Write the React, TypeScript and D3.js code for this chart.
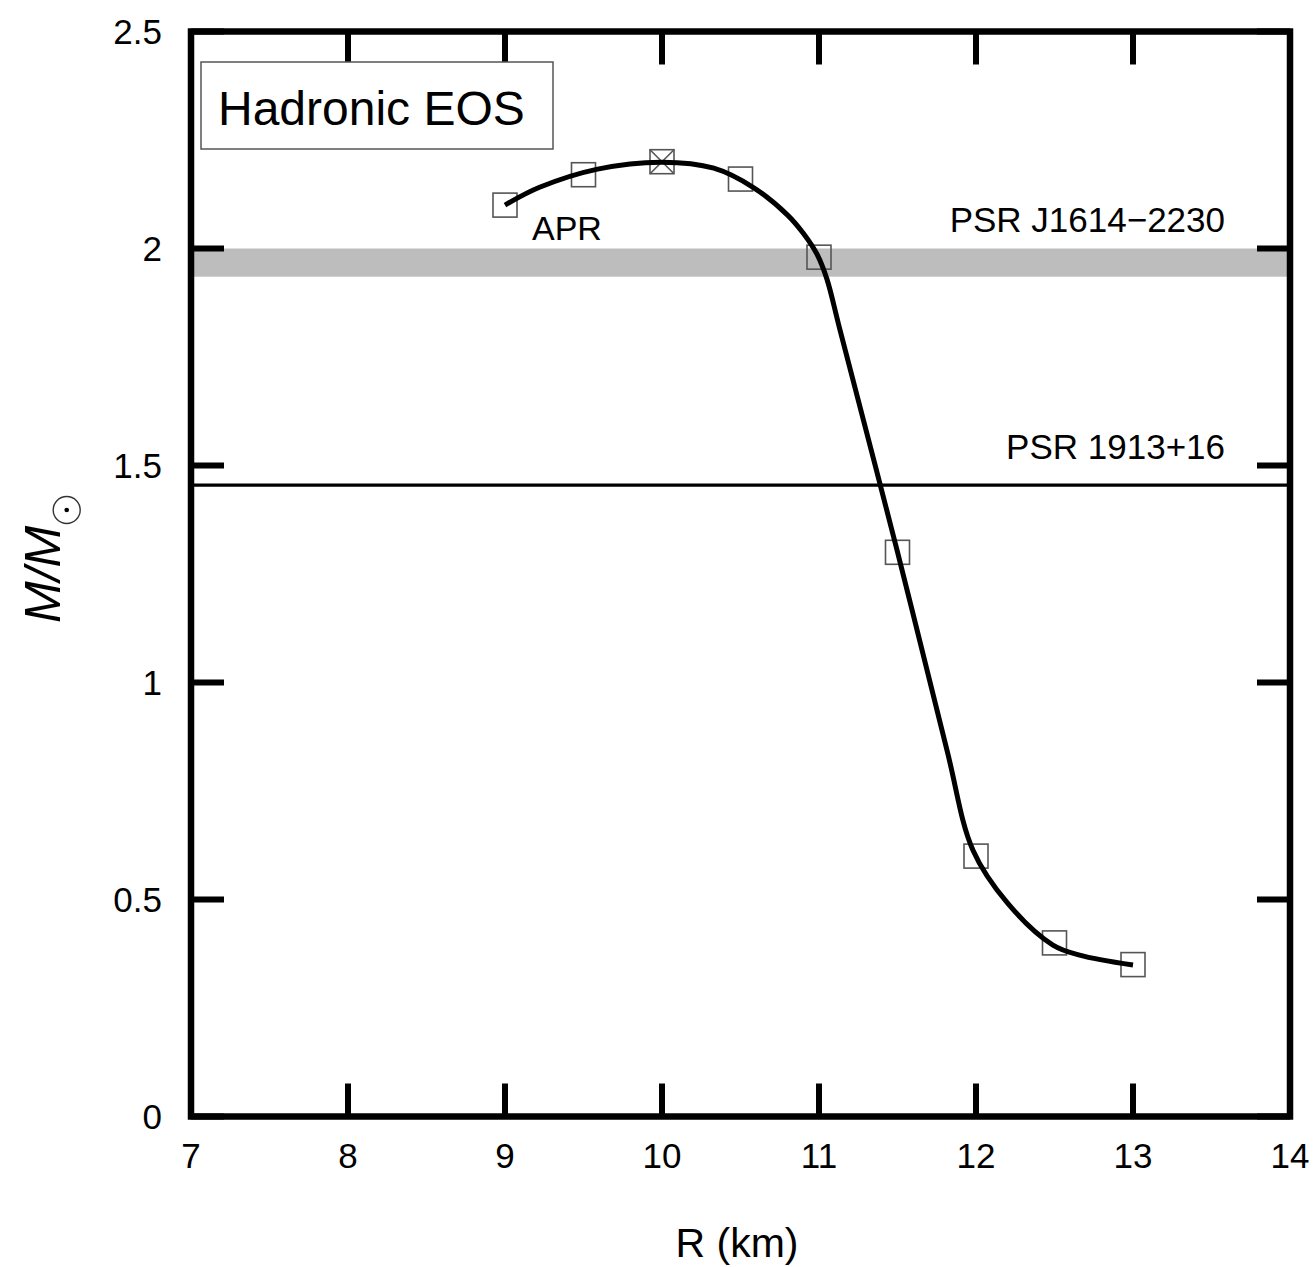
import React from "react";
import * as d3 from "d3";

const markerR = [9, 9.5, 10, 10.5, 11, 11.5, 12, 12.5, 13];
const markerM = [2.1, 2.17, 2.2, 2.16, 1.98, 1.3, 0.6, 0.4, 0.35];
const crossedIndex = 2;

const curveR = [9.0, 9.22, 9.59, 10.0, 10.33, 10.58, 10.8, 10.9, 10.99, 11.05, 11.134, 11.497, 11.815, 11.98, 12.2, 12.49, 12.66, 13.0];
const curveM = [2.1, 2.141, 2.183, 2.199, 2.185, 2.141, 2.077, 2.035, 1.985, 1.93, 1.812, 1.305, 0.844, 0.614, 0.492, 0.395, 0.372, 0.349];

const xTicks = [7, 8, 9, 10, 11, 12, 13, 14];
const yTicks = [0, 0.5, 1, 1.5, 2, 2.5];
const yTickLabels = ["0", "0.5", "1", "1.5", "2", "2.5"];

const bandLow = 1.935;
const bandHigh = 2.0;
const psr1913 = 1.455;

const W = 1315;
const H = 1267;
const FONT = "'Liberation Sans', Arial, sans-serif";

export default function App() {
  const x = d3.scaleLinear().domain([7, 14]).range([191, 1290]);
  const y = d3.scaleLinear().domain([0, 2.5]).range([1116.5, 31.5]);
  const [x0, x1] = x.range();
  const [y0, y1] = y.range();
  const tickLen = 33;

  const line = d3
    .line<number>()
    .x((_, i) => x(curveR[i]))
    .y((d) => y(d))
    .curve(d3.curveCatmullRom.alpha(0.5));

  const s = 12;

  return (
    <svg
      width={W}
      height={H}
      style={{ position: "absolute", left: 0, top: 0, display: "block", background: "#fff" }}
      fontFamily={FONT}
    >
      <rect x={0} y={0} width={W} height={H} fill="#fff" />
      {/* band */}
      <rect x={x0} y={y(bandHigh)} width={x1 - x0} height={y(bandLow) - y(bandHigh)} fill="#bdbdbd" />
      {/* PSR 1913+16 line */}
      <line x1={x0} x2={x1} y1={y(psr1913)} y2={y(psr1913)} stroke="#000" strokeWidth={3.2} />

      {/* markers */}
      {markerR.map((r, i) => {
        const cx = x(r);
        const cy = y(markerM[i]);
        return (
          <g key={i} stroke="#555" strokeWidth={1.6} fill="none">
            <rect x={cx - s} y={cy - s} width={2 * s} height={2 * s} />
            {i === crossedIndex && (
              <>
                <line x1={cx - s} y1={cy - s} x2={cx + s} y2={cy + s} />
                <line x1={cx - s} y1={cy + s} x2={cx + s} y2={cy - s} />
              </>
            )}
          </g>
        );
      })}

      {/* curve */}
      <path d={line(curveM) || ""} fill="none" stroke="#000" strokeWidth={5} strokeLinecap="butt" strokeLinejoin="round" />

      {/* ticks */}
      <g stroke="#000" strokeWidth={6}>
        {xTicks.map((t) => (
          <g key={"xt" + t}>
            <line x1={x(t)} x2={x(t)} y1={y0} y2={y0 - tickLen} />
            <line x1={x(t)} x2={x(t)} y1={y1} y2={y1 + tickLen} />
          </g>
        ))}
        {yTicks.map((t) => (
          <g key={"yt" + t}>
            <line x1={x0} x2={x0 + tickLen} y1={y(t)} y2={y(t)} />
            <line x1={x1} x2={x1 - tickLen} y1={y(t)} y2={y(t)} />
          </g>
        ))}
      </g>
      {/* frame */}
      <rect x={x0} y={y1} width={x1 - x0} height={y0 - y1} fill="none" stroke="#000" strokeWidth={6.5} />

      {/* tick labels */}
      <g fontSize={35} fill="#000">
        {xTicks.map((t) => (
          <text key={"xl" + t} x={x(t)} y={1168} textAnchor="middle">
            {t}
          </text>
        ))}
        {yTicks.map((t, i) => (
          <text key={"yl" + t} x={162} y={y(t)} dy="0.36em" textAnchor="end">
            {yTickLabels[i]}
          </text>
        ))}
      </g>

      {/* axis titles */}
      <text x={737} y={1257} fontSize={41} textAnchor="middle" fill="#000">
        R (km)
      </text>
      <g transform="translate(60,623) rotate(-90)">
        <text x={0} y={0} fontSize={50} fontStyle="italic" fill="#000">
          M/M
        </text>
      </g>
      <circle cx={66.7} cy={510} r={13.5} fill="none" stroke="#333" strokeWidth={1.4} />
      <circle cx={66.7} cy={510} r={2.3} fill="#000" />

      {/* Hadronic EOS box */}
      <rect x={201} y={62} width={352} height={87} fill="#fff" stroke="#555" strokeWidth={1.5} />
      <text x={218} y={125} fontSize={48} fill="#000">
        Hadronic EOS
      </text>

      {/* annotations */}
      <text x={532} y={240} fontSize={34} fill="#000">
        APR
      </text>
      <text x={1225} y={232} fontSize={35} textAnchor="end" fill="#000">
        PSR J1614−2230
      </text>
      <text x={1225} y={459} fontSize={35} textAnchor="end" fill="#000">
        PSR 1913+16
      </text>
    </svg>
  );
}
